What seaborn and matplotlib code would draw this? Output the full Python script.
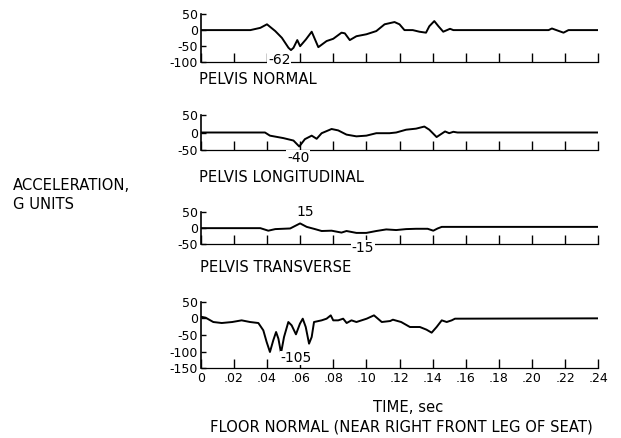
import matplotlib
matplotlib.use("Agg")
import matplotlib.pyplot as plt
import seaborn as sns

# pelvis normal
t_norm = [0, 0.030, 0.036, 0.040, 0.045, 0.049, 0.053, 0.0545, 0.056, 0.0583, 0.060, 0.0635, 0.067, 0.069,
          0.071, 0.076, 0.080, 0.085, 0.087, 0.090, 0.094, 0.100, 0.106, 0.111, 0.117, 0.120, 0.123, 0.128,
          0.132, 0.136, 0.138, 0.141, 0.1435, 0.1464, 0.1505, 0.1525, 0.210, 0.212, 0.219, 0.222, 0.24]
g_norm = [0, 0, 7, 18, -3, -24, -55, -62, -55, -31, -50, -29, -5, -29, -53, -34, -27, -8, -10, -31, -19,
          -13, -3, 18, 25, 18, 0, 0, -5, -8, 12, 28, 12, -5, 4, 0, 0, 5, -8, 0, 0]

# pelvis longitudinal
t_long = [0, 0.0388, 0.0418, 0.0499, 0.056, 0.0595, 0.0629, 0.067, 0.070, 0.073, 0.079, 0.083, 0.088,
          0.094, 0.100, 0.106, 0.114, 0.118, 0.124, 0.130, 0.135, 0.138, 0.1424, 0.1475, 0.150, 0.1525,
          0.155, 0.24]
g_long = [0, 0, -9, -16, -23, -40, -19, -9, -18, -2, 10, 6, -6, -11, -9, -2, -2, 0, 8, 11, 17, 8, -13, 3,
          -2, 2, 0, 0]

# pelvis transverse
t_trans = [0, 0.036, 0.0408, 0.045, 0.054, 0.060, 0.064, 0.069, 0.073, 0.079, 0.085, 0.088, 0.094, 0.100,
           0.106, 0.112, 0.118, 0.124, 0.130, 0.137, 0.1404, 0.143, 0.1455, 0.24]
g_trans = [0, 0, -8, -3, -1, 15, 4, -3, -9, -8, -14, -9, -15, -15, -9, -4, -6, -3, -2, -2, -8, -1, 4, 4]

# floor normal
t_floor = [0, 0.003, 0.0076, 0.0127, 0.019, 0.0247, 0.0298, 0.0348, 0.0378, 0.0398, 0.0418, 0.0438,
           0.0455, 0.0469, 0.0485, 0.0503, 0.0529, 0.0549, 0.0575, 0.0599, 0.0616, 0.0634, 0.0654, 0.067,
           0.0684, 0.073, 0.076, 0.0785, 0.080, 0.083, 0.086, 0.0881, 0.091, 0.094, 0.1002, 0.1046, 0.1093,
           0.1144, 0.116, 0.121, 0.1263, 0.1323, 0.1363, 0.1394, 0.1424, 0.1455, 0.1485, 0.1515, 0.1535, 0.24]
g_floor = [5, 2, -11, -14, -11, -6, -11, -14, -36, -71, -101, -66, -41, -61, -104, -56, -11, -21, -48, -16,
           -1, -26, -76, -56, -11, -6, -1, 9, -6, -6, -1, -14, -6, -11, -1, 9, -11, -8, -4, -11, -26, -26,
           -34, -43, -26, -6, -11, -6, -1, 0]

x_ticks = [0.02 * i for i in range(13)]
x_labels = ["0", ".02", ".04", ".06", ".08", ".10", ".12", ".14", ".16", ".18", ".20", ".22", ".24"]
titles = ["PELVIS NORMAL", "PELVIS LONGITUDINAL", "PELVIS TRANSVERSE"]

sns.set_style("ticks")
plt.rcParams["font.family"] = ["DejaVu Sans"]
plt.rcParams["text.color"] = "black"
plt.rcParams["xtick.color"] = "black"
plt.rcParams["ytick.color"] = "black"

W, H = 621, 438
fig = plt.figure(figsize=(W / 100, H / 100), dpi=100)


def px_axes(top, bottom):
    left, right = 200.7, 598.3
    return fig.add_axes([left / W, 1 - bottom / H, (right - left) / W, (bottom - top) / H])


panels = [
    (t_norm, g_norm, px_axes(14, 62.3), (-100, 50), [50, 0, -50, -100]),
    (t_long, g_long, px_axes(115, 150), (-50, 50), [50, 0, -50]),
    (t_trans, g_trans, px_axes(212.3, 244), (-50, 50), [50, 0, -50]),
    (t_floor, g_floor, px_axes(301.7, 368.3), (-150, 50), [50, 0, -50, -100, -150]),
]

for i, (t, g, ax, ylim, yt) in enumerate(panels):
    sns.lineplot(x=t, y=g, ax=ax, color="black", linewidth=1.4)
    ax.set_xlim(0, 0.24)
    ax.set_ylim(*ylim)
    ax.set_yticks(yt, [str(v) for v in yt], fontsize=9)
    if i == 3:
        ax.set_xticks(x_ticks, x_labels, fontsize=9)
    else:
        ax.set_xticks(x_ticks, [""] * len(x_ticks))
    ax.tick_params(axis="x", direction="in", length=6.5, width=1, pad=3)
    ax.tick_params(axis="y", direction="in", length=3.5, width=1, pad=2)
    for s in ["top", "right"]:
        ax.spines[s].set_visible(False)
    ax.spines["left"].set_linewidth(1.2)
    ax.spines["bottom"].set_linewidth(0.9)
    ax.spines["left"].set_color("black")
    ax.spines["bottom"].set_color("black")
    ax.patch.set_alpha(0)

box = dict(facecolor="white", edgecolor="none", pad=0.6)
ax1, ax2, ax3, ax4 = [p[2] for p in panels]
ax1.text(0.0474, -92, "-62", ha="center", va="center", fontsize=10, bbox=box, clip_on=False, zorder=5)
ax2.text(0.0589, -73, "-40", ha="center", va="center", fontsize=10, bbox=box, clip_on=False, zorder=5)
ax3.text(0.063, 50, "15", ha="center", va="center", fontsize=10, clip_on=False, zorder=5)
ax3.text(0.098, -63, "-15", ha="center", va="center", fontsize=10, bbox=box, clip_on=False, zorder=5)
ax4.text(0.0575, -119, "-105", ha="center", va="center", fontsize=10,
         bbox=dict(facecolor="white", edgecolor="none", pad=0.2), clip_on=False, zorder=5)

fs = 10.6
fig.text(199 / W, 1 - 80 / H, titles[0], ha="left", va="center", fontsize=fs)
fig.text(199 / W, 1 - 178 / H, titles[1], ha="left", va="center", fontsize=fs)
fig.text(200 / W, 1 - 268 / H, titles[2], ha="left", va="center", fontsize=fs)
fig.text(13 / W, 1 - 185 / H, "ACCELERATION,", ha="left", va="center", fontsize=fs)
fig.text(13 / W, 1 - 205 / H, "G UNITS", ha="left", va="center", fontsize=fs)
fig.text(408 / W, 1 - 408 / H, "TIME, sec", ha="center", va="center", fontsize=fs)
fig.text(401 / W, 1 - 427 / H, "FLOOR NORMAL (NEAR RIGHT FRONT LEG OF SEAT)", ha="center",
         va="center", fontsize=fs)

fig.savefig("out.png", dpi=100, facecolor="white")
